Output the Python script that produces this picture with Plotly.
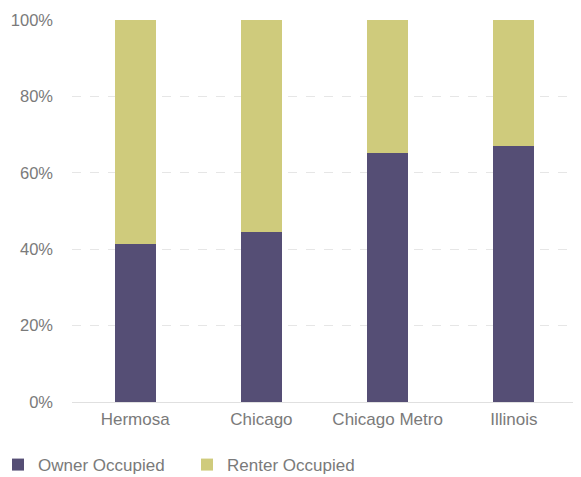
import plotly.graph_objects as go

categories = ["Hermosa", "Chicago", "Chicago Metro", "Illinois"]
owner = [41.3, 44.6, 65.1, 67.0]
renter = [58.7, 55.4, 34.9, 33.0]
tick_vals = [0, 20, 40, 60, 80, 100]
tick_text = ["0%", "20%", "40%", "60%", "80%", "100%"]

fig = go.Figure()
fig.add_trace(go.Bar(x=categories, y=owner, name="Owner Occupied",
                     marker=dict(color="#554e75", line=dict(width=0))))
fig.add_trace(go.Bar(x=categories, y=renter, name="Renter Occupied",
                     marker=dict(color="#cfcb7c", line=dict(width=0))))

fig.update_layout(
    barmode="stack",
    bargap=0.675,
    width=573, height=469,
    margin=dict(l=64, r=4, t=12, b=75, autoexpand=False),
    paper_bgcolor="white", plot_bgcolor="white",
    font=dict(family="Liberation Sans", size=17, color="#7a7a7a"),
    legend=dict(orientation="h", x=-0.1465, xanchor="left",
                y=-0.165, yanchor="middle", font=dict(size=17, color="#7a7a7a"),
                entrywidth=144, traceorder="normal"),
    showlegend=True,
)
fig.update_yaxes(range=[0, 100], tickvals=tick_vals, ticktext=tick_text,
                 showgrid=True, gridcolor="#e6e6e6", griddash="dash", gridwidth=1,
                 zeroline=False, showline=False, ticks="", ticklabelstandoff=18,
                 tickfont=dict(size=16.5), automargin=False)
fig.update_xaxes(showline=True, linecolor="#e0e0e0", linewidth=1, ticks="",
                 showgrid=False, automargin=False, ticklabelstandoff=2)
fig.write_html("out.html")
